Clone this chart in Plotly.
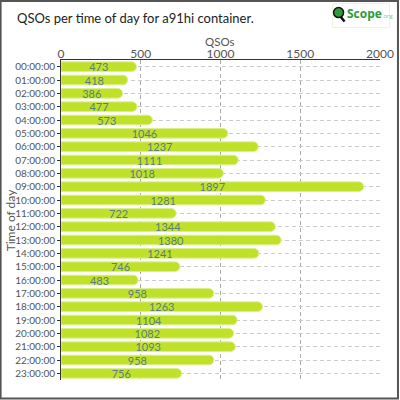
import plotly.graph_objects as go

# data
hours = [f"{h:02d}:00:00" for h in range(24)]
qsos = [473, 418, 386, 477, 573, 1046, 1237, 1111, 1018, 1897, 1281, 722,
        1344, 1380, 1241, 746, 483, 958, 1263, 1104, 1082, 1093, 958, 756]
x_ticks = [0, 500, 1000, 1500, 2000]

W, H = 400, 400
ML, MR, MT, MB = 61, 19.5, 59.5, 20
PW, PH = W - ML - MR, H - MT - MB


def px(x):
    return (x - ML) / PW


def py(y):
    return (H - MB - y) / PH


FONT = "Lato"
GREY = "#555555"

fig = go.Figure()
fig.add_trace(go.Bar(
    x=qsos, y=hours, orientation="h",
    width=0.72,
    marker=dict(color="#bfe12a", line=dict(color="#dcef8c", width=1),
                cornerradius=5),
    text=[str(v) for v in qsos],
    textposition="inside", insidetextanchor="middle",
    textfont=dict(family=FONT, size=11, color="#5a7f78"),
    constraintext="none",
    showlegend=False,
    hoverinfo="x+y",
))

fig.update_layout(
    width=W, height=H,
    margin=dict(l=ML, r=MR, t=MT, b=MB, autoexpand=False),
    paper_bgcolor="white", plot_bgcolor="white",
    font=dict(family=FONT, color=GREY),
    uniformtext=dict(minsize=8, mode="show"),
    xaxis=dict(
        side="top", range=[0, 2000], tickvals=x_ticks,
        tickfont=dict(size=12, color=GREY), ticklabelstandoff=-4,
        showgrid=True, gridcolor="#aaaaaa", griddash="4px,3px", gridwidth=1,
        showline=True, linecolor="#333333", linewidth=1,
        ticks="", zeroline=False, fixedrange=True, automargin=False,
    ),
    yaxis=dict(
        autorange="reversed", type="category",
        tickfont=dict(size=10, color=GREY),
        showgrid=True, gridcolor="#cccccc", griddash="4px,3px", gridwidth=1,
        showline=True, linecolor="#333333", linewidth=1,
        ticks="outside", ticklen=3, tickcolor="#333333",
        fixedrange=True, automargin=False,
    ),
)

# axis titles
fig.add_annotation(text="QSOs", xref="paper", yref="paper",
                   x=px(220), y=py(41), xanchor="center", yanchor="middle",
                   showarrow=False, font=dict(size=11.5, color=GREY))
fig.add_annotation(text="Time of day", xref="paper", yref="paper",
                   x=px(10), y=py(220), xanchor="center", yanchor="middle",
                   textangle=-90, showarrow=False,
                   font=dict(size=12, color=GREY))

# chart title
fig.add_annotation(
    text="QSOs per time of day for a91hi container.",
    xref="paper", yref="paper", x=px(15), y=py(17),
    xanchor="left", yanchor="middle", showarrow=False,
    font=dict(family=FONT, size=13, color="#222222"),
)

# logo box
fig.add_shape(type="rect", xref="paper", yref="paper",
              x0=px(333), x1=px(390), y0=py(3), y1=py(27),
              line=dict(color="#eef3d8", width=1), fillcolor="white")
fig.add_shape(type="line", xref="paper", yref="paper",
              x0=px(340), y0=py(15), x1=px(345), y1=py(21),
              line=dict(color="#111111", width=2.5))
fig.add_shape(type="circle", xref="paper", yref="paper",
              x0=px(334), x1=px(344), y0=py(7), y1=py(17),
              fillcolor="#2e9a3a", line=dict(color="#111111", width=1.5))
fig.add_annotation(
    text="<b>Scope</b><span style='font-size:6px;color:#8cc46a'>.org</span>",
    xref="paper", yref="paper", x=px(345), y=py(13),
    xanchor="left", yanchor="middle", showarrow=False,
    font=dict(family="Open Sans", size=12, color="#2e9a3a"),
)

# outer frame
fig.add_shape(type="rect", xref="paper", yref="paper",
              x0=px(0.5), x1=px(398.5), y0=py(0.5), y1=py(398.5),
              line=dict(color=GREY, width=2), fillcolor="rgba(0,0,0,0)")

fig.write_html("out.html", config={"displayModeBar": False},
               post_script="document.body.style.margin='0';")
